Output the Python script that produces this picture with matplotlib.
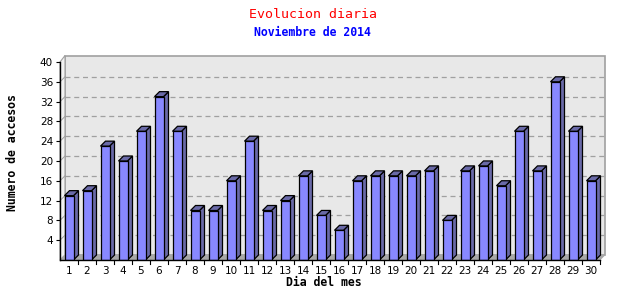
import numpy as np
import matplotlib
matplotlib.use("Agg")
import matplotlib.pyplot as plt
from matplotlib.patches import Polygon

dias = list(range(1, 31))
accesos = [13, 14, 23, 20, 26, 33, 26, 10, 10, 16, 24, 10, 12, 17, 9,
           6, 16, 17, 17, 17, 18, 8, 18, 19, 15, 26, 18, 36, 26, 16]
yticks = [4, 8, 12, 16, 20, 24, 28, 32, 36, 40]

titulo = "Evolucion diaria"
subtitulo = "Noviembre de 2014"

cara = "#8888ff"
lado = "#6a6aa8"

W, H = 640, 300
fig = plt.figure(figsize=(W / 100, H / 100), dpi=100)
# front plane of the plot: x 60..600 px, y 62..260 px
ax = fig.add_axes([60 / W, (H - 260) / H, 540 / W, 198 / H])
ax.set_xlim(0.5, 30.5)
ax.set_ylim(0, 40)

# depth of the 3d effect, 5 px in data units
dx = 5 / (540 / 30)
dy = 5 / (198 / 40)
x0, x1 = 0.5, 30.5

for s in ax.spines.values():
    s.set_visible(False)
ax.patch.set_visible(False)

# back wall, side wall and floor
ax.add_patch(Polygon([(x0 + dx, dy), (x1 + dx, dy), (x1 + dx, 40 + dy + 0.3),
                      (x0 + dx, 40 + dy + 0.3)], closed=True, fc="#e8e8e8",
                     ec="#a0a0a0", lw=1.2, clip_on=False, zorder=0))
ax.add_patch(Polygon([(x0, 0), (x0 + dx, dy), (x0 + dx, 40 + dy + 0.3), (x0, 40)],
                     closed=True, fc="#f2f2f2", ec="#a0a0a0", lw=0.8,
                     clip_on=False, zorder=0))
ax.add_patch(Polygon([(x0, 0), (x1, 0), (x1 + dx, dy), (x0 + dx, dy)],
                     closed=True, fc="#a8a8a8", ec="#a8a8a8", lw=0.5,
                     clip_on=False, zorder=0.5))

# dashed grid on the back wall
for t in yticks[:-1]:
    ax.plot([x0 + dx, x1 + dx], [t + dy, t + dy], ls=(0, (4, 3)),
            color="#a0a0a0", lw=0.9, zorder=0.6, clip_on=False)
    ax.plot([x0, x0 + dx], [t, t + dy], color="#a0a0a0", lw=0.7,
            zorder=0.6, clip_on=False)

# bars
bw = 0.5
ax.bar(dias, accesos, width=bw, color=cara, edgecolor="black", lw=0.9, zorder=3)
for d, v in zip(dias, accesos):
    l, r = d - bw / 2, d + bw / 2
    ax.add_patch(Polygon([(r, 0), (r + dx, dy), (r + dx, v + dy), (r, v)],
                         closed=True, fc=lado, ec="black", lw=0.9, zorder=2.9,
                         clip_on=False))
    ax.add_patch(Polygon([(l, v), (r, v), (r + dx, v + dy), (l + dx, v + dy)],
                         closed=True, fc=lado, ec="black", lw=0.9, zorder=2.9,
                         clip_on=False))

# axes lines
ax.plot([x0, x0], [0, 40], color="black", lw=1, zorder=4, clip_on=False)
ax.plot([x0, x1], [0, 0], color="black", lw=1, zorder=4, clip_on=False)

ax.set_yticks(yticks)
ax.set_yticklabels([str(t) for t in yticks], fontsize=7.5, family="DejaVu Sans")
ax.set_xticks(dias)
ax.set_xticklabels([str(d) for d in dias], fontsize=7.5, family="DejaVu Sans")
ax.tick_params(axis="y", direction="out", length=3, width=0.8, pad=2)
ax.tick_params(axis="x", length=0, pad=4)
# x tick marks at slot boundaries
for b in np.arange(1.5, 31, 1):
    ax.plot([b, b], [0, -0.8], color="black", lw=0.8, clip_on=False, zorder=4)

fig.text(313 / W, 1 - 14 / H, titulo, color="red", fontsize=9.5,
         family="DejaVu Sans Mono", ha="center", va="center")
fig.text(312 / W, 1 - 32 / H, subtitulo, color="blue", fontsize=8.3,
         family="DejaVu Sans Mono", weight="bold", ha="center", va="center")
fig.text(13 / W, 1 - 153 / H, "Numero de accesos", fontsize=8.3, rotation=90,
         family="DejaVu Sans Mono", weight="bold", ha="center", va="center")
fig.text(324 / W, 1 - 282 / H, "Dia del mes", fontsize=8.3,
         family="DejaVu Sans Mono", weight="bold", ha="center", va="center")

fig.savefig("out.png", dpi=100, facecolor="white")
